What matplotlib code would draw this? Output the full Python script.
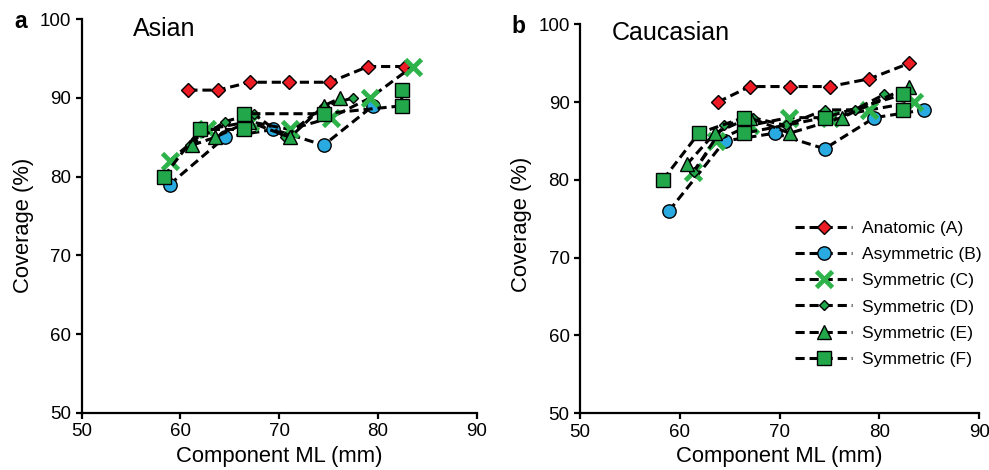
import matplotlib
matplotlib.use("Agg")
import matplotlib.pyplot as plt

plt.rcParams['font.family'] = ['Liberation Sans', 'DejaVu Sans']

series_names = ["Anatomic (A)", "Asymmetric (B)", "Symmetric (C)",
                "Symmetric (D)", "Symmetric (E)", "Symmetric (F)"]

# Panel a: Asian
asian_A_x = [60.8, 63.8, 67.0, 71.0, 75.1, 79.0, 82.7]
asian_A_y = [91, 91, 92, 92, 92, 94, 94]
asian_B_x = [58.9, 64.5, 69.4, 74.5, 79.5]
asian_B_y = [79, 85, 86, 84, 89]
asian_C_x = [58.9, 62.7, 67.0, 71.1, 75.2, 79.2, 83.5]
asian_C_y = [82, 86, 87, 86, 87.5, 90, 94]
asian_D_x = [61.0, 64.5, 67.4, 70.6, 74.5, 77.5]
asian_D_y = [84, 87, 88, 85, 89, 90]
asian_E_x = [61.2, 63.5, 66.9, 71.1, 74.5, 76.2]
asian_E_y = [84, 85, 87, 85, 89, 90]
asian_F_x = [58.3, 62.0, 66.4, 66.4, 74.5, 82.4, 82.4]
asian_F_y = [80, 86, 86, 88, 88, 89, 91]

# Panel b: Caucasian
cauc_A_x = [63.8, 67.0, 71.0, 75.0, 79.0, 83.0]
cauc_A_y = [90, 92, 92, 92, 93, 95]
cauc_B_x = [58.9, 64.5, 69.5, 74.5, 79.5, 84.5]
cauc_B_y = [76, 85, 86, 84, 88, 89]
cauc_C_x = [61.3, 63.6, 67.0, 70.9, 75.0, 79.0, 83.5]
cauc_C_y = [81, 85, 87, 88, 88, 89, 90]
cauc_D_x = [61.4, 64.4, 67.3, 70.6, 74.5, 77.5, 80.5]
cauc_D_y = [81, 87, 88, 87, 89, 89, 91]
cauc_E_x = [60.7, 63.5, 67.0, 71.0, 76.2, 83.0]
cauc_E_y = [82, 86, 88, 86, 88, 92]
cauc_F_x = [58.3, 61.9, 66.4, 66.4, 74.5, 82.4, 82.4]
cauc_F_y = [80, 86, 88, 86, 88, 91, 89]

x_ticks = [50, 60, 70, 80, 90]
y_ticks = [50, 60, 70, 80, 90, 100]

styles = [
    dict(marker='D', ms=7.6, mfc='#ED1C24', mec='black', mew=1.0),
    dict(marker='o', ms=9.6, mfc='#29ABE2', mec='black', mew=1.0),
    dict(marker='x', ms=11.0, mfc='#2DB34A', mec='#2DB34A', mew=3.4),
    dict(marker='D', ms=5.6, mfc='#22A84A', mec='black', mew=1.0),
    dict(marker='^', ms=10.2, mfc='#22A84A', mec='black', mew=1.0),
    dict(marker='s', ms=9.6, mfc='#22A84A', mec='black', mew=1.0),
]

W, H = 989, 470
fig = plt.figure(figsize=(W / 100, H / 100), dpi=100)

def px_axes(l, r, t, b):
    return fig.add_axes([l / W, 1 - b / H, (r - l) / W, (b - t) / H])

ax_a = px_axes(81.7, 476.7, 19.3, 412.7)
ax_b = px_axes(580.0, 979.3, 24.3, 413.3)

panels = [
    (ax_a, [(asian_A_x, asian_A_y), (asian_B_x, asian_B_y), (asian_C_x, asian_C_y),
            (asian_D_x, asian_D_y), (asian_E_x, asian_E_y), (asian_F_x, asian_F_y)]),
    (ax_b, [(cauc_A_x, cauc_A_y), (cauc_B_x, cauc_B_y), (cauc_C_x, cauc_C_y),
            (cauc_D_x, cauc_D_y), (cauc_E_x, cauc_E_y), (cauc_F_x, cauc_F_y)]),
]

for ax, data in panels:
    for (xs, ys), st, name in zip(data, styles, series_names):
        ax.plot(xs, ys, color='black', lw=2.2, ls=(0, (3.0, 1.6)),
                label=name, clip_on=False, **st)
    ax.set_xlim(50, 90)
    ax.set_ylim(50, 100)
    ax.set_xticks(x_ticks)
    ax.set_yticks(y_ticks)
    for s in ['top', 'right']:
        ax.spines[s].set_visible(False)
    for s in ['left', 'bottom']:
        ax.spines[s].set_linewidth(1.6)
    ax.tick_params(direction='out', length=4.0, width=1.6, labelsize=13.5, pad=3.5)
    ax.set_xlabel('Component ML (mm)', fontsize=15.8, labelpad=4)

fig.text(23 / W, 1 - 225 / H, 'Coverage (%)', rotation=90, fontsize=15.8,
         ha='center', va='center')
fig.text(521.7 / W, 1 - 224 / H, 'Coverage (%)', rotation=90, fontsize=15.8,
         ha='center', va='center')

fig.text(14 / W, 1 - 27.5 / H, 'a', fontsize=16.5, fontweight='bold', ha='left', va='baseline')
fig.text(511 / W, 1 - 33 / H, 'b', fontsize=16.5, fontweight='bold', ha='left', va='baseline')
fig.text(133 / W, 1 - 36 / H, 'Asian', fontsize=18, ha='left', va='baseline')
fig.text(612 / W, 1 - 40.5 / H, 'Caucasian', fontsize=18, ha='left', va='baseline')

leg = ax_b.legend(loc='upper left', bbox_to_anchor=(795 / W, 1 - 221 / H),
                  bbox_transform=fig.transFigure, frameon=False, fontsize=12.6,
                  handlelength=3.26, handletextpad=0.55, labelspacing=0.62,
                  borderpad=0, borderaxespad=0, numpoints=1)

fig.savefig('out.png', dpi=100)
